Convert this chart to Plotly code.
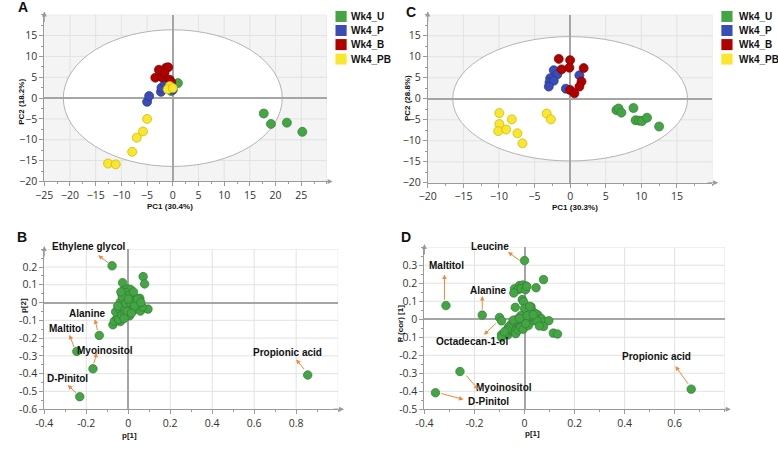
import plotly.graph_objects as go

W, H = 778, 450

# ---------------- DATA ----------------
groups = ["Wk4_U", "Wk4_P", "Wk4_B", "Wk4_PB"]
group_colors = ["#45a545", "#3a4db7", "#b00000", "#f9e62d"]
group_lines = ["#2f7d32", "#27348a", "#7a0000", "#c9b400"]

# Panel A scores (PC1, PC2)
A_scores = {
    "Wk4_U": ([1.0, -0.3, 17.7, 19.1, 22.2, 25.2], [3.6, 1.7, -3.7, -6.2, -5.9, -8.1]),
    "Wk4_P": ([-5.0, -4.6, -2.3, -2.2, -1.5, -0.5, -1.0, 0.0], [-0.9, 0.5, 1.5, 2.5, 3.5, 2.8, 4.0, 2.0]),
    "Wk4_B": ([-3.4, -2.7, -2.1, -1.3, -0.9, -0.6, -0.3, -1.6], [4.9, 6.8, 5.0, 7.3, 7.4, 4.4, 3.8, 6.0]),
    "Wk4_PB": ([-12.6, -11.1, -7.9, -7.0, -5.8, -5.0, -0.6, -1.0, 0.0], [-15.7, -15.9, -12.9, -9.5, -8.0, -5.0, 2.9, 2.1, 2.4]),
}
A_ellipse = (21.3, 16.4)

# Panel C scores (PC1, PC2)
C_scores = {
    "Wk4_U": ([6.5, 6.8, 7.2, 8.9, 9.2, 9.7, 10.1, 10.8, 12.5], [-2.7, -2.3, -3.3, -2.2, -5.1, -5.2, -5.3, -4.5, -6.6]),
    "Wk4_P": ([-2.3, -1.8, -2.8, -2.9, -2.3, -3.0, -0.6, 1.3], [6.8, 5.8, 4.9, 3.9, 4.3, 2.9, 2.4, 5.6]),
    "Wk4_B": ([-1.6, -1.2, 0.0, -0.1, 1.9, 1.6, 1.3, 0.0, 0.6], [9.5, 7.0, 9.2, 7.4, 7.3, 4.1, 2.9, 2.1, 1.3]),
    "Wk4_PB": ([-9.95, -9.95, -10.1, -9.0, -8.2, -7.4, -6.7, -3.3, -2.7], [-3.4, -6.0, -7.7, -7.3, -4.9, -8.2, -10.6, -3.5, -4.9]),
}
C_ellipse = (16.5, 14.8)

# Panel B loadings p[1], p[2]
B_p1 = [-0.077, -0.138, -0.245, -0.168, -0.231, 0.855,
        -0.027, 0.071, 0.078, 0.094, -0.073, -0.066, -0.053, -0.038, -0.045,
        -0.060, -0.043, -0.031, -0.023, -0.016, -0.031, -0.023, -0.004, 0.011, 0.019, 0.027,
        0.035, 0.050, 0.055, -0.008, 0.000, 0.014, 0.039, 0.058, 0.066, 0.006, -0.019, -0.038,
        -0.016, 0.024, 0.043, -0.010, 0.005, 0.020, -0.028, -0.012, 0.008, 0.030, -0.005, 0.045,
        -0.020, 0.015, 0.060, -0.035, 0.025, -0.050, 0.000]
B_p2 = [0.207, -0.185, -0.275, -0.373, -0.530, -0.408,
        0.112, 0.146, 0.105, -0.037, -0.125, -0.104, -0.085, -0.107, -0.095,
        -0.052, -0.034, -0.070, -0.015, 0.013, 0.050, 0.068, 0.077, 0.074, 0.050, 0.031,
        0.018, 0.007, 0.024, 0.031, -0.015, -0.034, -0.037, -0.048, -0.024, -0.075, -0.055, 0.002,
        -0.037, -0.006, -0.011, 0.055, 0.040, 0.010, 0.030, -0.005, 0.000, -0.020, -0.050, 0.020,
        -0.090, -0.060, 0.000, 0.060, 0.060, -0.020, 0.020]
B_labels = ["Ethylene glycol", "Alanine", "Maltitol", "Myoinositol", "D-Pinitol", "Propionic acid"]

# Panel D loadings p[1], p(corr)[1]
D_p1 = [0.000, -0.314, -0.169, -0.100, -0.258, -0.356, 0.666,
        0.076, 0.046, -0.040, -0.020, -0.007, 0.006, -0.026, -0.013, 0.004, 0.009, -0.043,
        -0.009, -0.004, -0.037, 0.026, 0.033, 0.053, 0.066, 0.079, 0.115, 0.132, 0.076, 0.097,
        0.000, 0.020, 0.045, -0.092, -0.066, -0.072, -0.092, -0.092, -0.060, -0.050, -0.040,
        -0.030, -0.020, -0.010, 0.000, 0.010, 0.020, 0.030, -0.055, -0.045, -0.035, -0.025,
        -0.015, -0.005, 0.015, 0.025, 0.040, -0.030, -0.015, 0.000, -0.065, -0.070, 0.010,
        -0.045, 0.050, 0.035, -0.080, -0.020, 0.005, 0.059]
D_pcorr = [0.326, 0.076, 0.023, 0.010, -0.290, -0.408, -0.388,
           0.220, 0.175, 0.170, 0.187, 0.190, 0.184, 0.164, 0.170, 0.164, 0.182, 0.146,
           0.109, 0.097, 0.066, 0.069, 0.042, 0.024, 0.005, -0.013, -0.077, -0.082, -0.040, -0.008,
           0.060, 0.072, 0.030, -0.009, -0.086, -0.077, -0.086, -0.100, -0.060, -0.040, -0.020,
           -0.050, -0.030, -0.010, -0.040, -0.020, 0.000, -0.010, -0.030, -0.065, -0.080, -0.060,
           -0.045, -0.055, -0.035, 0.015, 0.010, 0.000, 0.020, 0.000, -0.045, -0.060, 0.020,
           -0.005, -0.010, 0.025, -0.070, 0.005, -0.025, -0.037]
D_labels = ["Leucine", "Maltitol", "Alanine", "Octadecan-1-ol", "Myoinositol", "D-Pinitol", "Propionic acid"]

# label text positions and arrow (tail -> head) for loadings panels
B_label_pos = [(-0.189, 0.317), (-0.193, -0.061), (-0.296, -0.144), (-0.110, -0.268), (-0.291, -0.425), (0.761, -0.279)]
B_arrows = [((-0.085, 0.215), (-0.143, 0.266)), ((-0.145, -0.163), (-0.159, -0.094)),
            ((-0.256, -0.259), (-0.280, -0.181)), ((-0.166, -0.351), (-0.150, -0.283)),
            ((-0.241, -0.517), (-0.288, -0.464)), ((0.844, -0.384), (0.800, -0.320))]
D_label_pos = [(-0.138, 0.402), (-0.31, 0.297), (-0.145, 0.158), (-0.211, -0.126), (-0.083, -0.379), (-0.145, -0.459), (0.527, -0.204)]
D_arrows = [((-0.013, 0.320), (-0.066, 0.373)), ((-0.320, 0.100), (-0.320, 0.248)),
            ((-0.169, 0.045), (-0.169, 0.129)), ((-0.109, -0.016), (-0.162, -0.086)),
            ((-0.237, -0.305), (-0.185, -0.390)), ((-0.339, -0.410), (-0.244, -0.445)),
            ((0.658, -0.367), (0.603, -0.260))]

# ---------------- FIGURE ----------------
fig = go.Figure()

def px_x(p):
    return p / W

def px_y(p):
    return 1 - p / H

domains = {
    "A": ([35.7, 321.7], [15, 184.3]),
    "C": ([423.7, 711.7], [15, 185.7]),
    "B": ([35.7, 333.0], [253.2, 415.6]),
    "D": ([420.3, 724.1], [251.1, 415.8]),
}
axes_id = {"A": ("x", "y"), "C": ("x2", "y2"), "B": ("x3", "y3"), "D": ("x4", "y4")}

for key, scores in (("A", A_scores), ("C", C_scores)):
    xa, ya = axes_id[key]
    for g, col, lc in zip(groups, group_colors, group_lines):
        xs, ys = scores[g]
        fig.add_trace(go.Scatter(x=xs, y=ys, mode="markers", xaxis=xa, yaxis=ya,
                                 marker=dict(size=9, color=col, line=dict(color=lc, width=0.7)),
                                 showlegend=False, name=g))

green, green_line = group_colors[0], group_lines[0]
fig.add_trace(go.Scatter(x=B_p1, y=B_p2, mode="markers", xaxis="x3", yaxis="y3",
                         marker=dict(size=8.5, color=green, line=dict(color=green_line, width=0.7)),
                         showlegend=False))
fig.add_trace(go.Scatter(x=D_p1, y=D_pcorr, mode="markers", xaxis="x4", yaxis="y4",
                         marker=dict(size=8.5, color=green, line=dict(color=green_line, width=0.7)),
                         showlegend=False))

tickfont = dict(family="Open Sans, Arial, sans-serif", size=10.5, color="#333")
grid = "#e2e2e2"
axcol = "#9a9a9a"

def axis(dom_px, is_x, rng, dtick, minor_dtick):
    if is_x:
        dom = [px_x(dom_px[0]), px_x(dom_px[1])]
    else:
        dom = [px_y(dom_px[1]), px_y(dom_px[0])]
    return dict(domain=dom, range=rng, dtick=dtick, tick0=0, showgrid=False,
                zeroline=True, zerolinecolor="#a5a5a5", zerolinewidth=1.5,
                showline=True, linecolor=axcol, linewidth=1, ticks="outside", ticklen=4,
                tickcolor=axcol, tickfont=tickfont,
                minor=dict(dtick=minor_dtick, ticks="outside", ticklen=2, tickcolor=axcol, showgrid=False),
                fixedrange=True)

layout_axes = {}
cfg = {
    "A": ([-25, 30], 5, 2.5, [-20, 20], 5, 2.5),
    "C": ([-20, 20], 5, 2.5, [-20, 20], 5, 2.5),
    "B": ([-0.4, 1.0], 0.2, 0.1, [-0.6, 0.3], 0.1, 0.05),
    "D": ([-0.4, 0.8], 0.2, 0.1, [-0.5, 0.4], 0.1, 0.05),
}
for key, (xr, xd, xm, yr, yd, ym) in cfg.items():
    xa, ya = axes_id[key]
    xname = "xaxis" + xa[1:]
    yname = "yaxis" + ya[1:]
    xd_ = axis(domains[key][0], True, xr, xd, xm)
    yd_ = axis(domains[key][1], False, yr, yd, ym)
    xd_["anchor"] = ya
    yd_["anchor"] = xa
    layout_axes[xname] = xd_
    layout_axes[yname] = yd_

# tick labels (last grid line carries no label)
layout_axes["xaxis"]["tickvals"] = list(range(-25, 30, 5))
layout_axes["yaxis"]["tickvals"] = list(range(-20, 20, 5))
layout_axes["xaxis2"]["tickvals"] = list(range(-20, 20, 5))
layout_axes["yaxis2"]["tickvals"] = list(range(-20, 20, 5))
layout_axes["xaxis3"]["tickvals"] = [-0.4, -0.2, 0, 0.2, 0.4, 0.6, 0.8]
layout_axes["xaxis3"]["ticktext"] = ["-0.4", "-0.2", "0", "0.2", "0.4", "0.6", "0.8"]
layout_axes["yaxis3"]["tickvals"] = [-0.6, -0.5, -0.4, -0.3, -0.2, -0.1, 0, 0.1, 0.2]
layout_axes["yaxis3"]["ticktext"] = ["-0.6", "-0.5", "-0.4", "-0.3", "-0.2", "-0.1", "0", "0.1", "0.2"]
layout_axes["xaxis4"]["tickvals"] = [-0.4, -0.2, 0, 0.2, 0.4, 0.6]
layout_axes["xaxis4"]["ticktext"] = ["-0.4", "-0.2", "0", "0.2", "0.4", "0.6"]
layout_axes["yaxis4"]["tickvals"] = [-0.5, -0.4, -0.3, -0.2, -0.1, 0, 0.1, 0.2, 0.3]
layout_axes["yaxis4"]["ticktext"] = ["-0.5", "-0.4", "-0.3", "-0.2", "-0.1", "0", "0.1", "0.2", "0.3"]

shapes = []
# gray background + white Hotelling ellipse for score plots
for key, ell in (("A", A_ellipse), ("C", C_ellipse)):
    xa, ya = axes_id[key]
    shapes.append(dict(type="rect", xref=xa + " domain", yref=ya + " domain", x0=0, x1=1, y0=0, y1=1,
                       fillcolor="#f4f4f4", line=dict(width=0), layer="below"))
    shapes.append(dict(type="circle", xref=xa, yref=ya, x0=-ell[0], x1=ell[0], y0=-ell[1], y1=ell[1],
                       fillcolor="white", line=dict(color="#b3b3b3", width=1), layer="below"))

# grid lines
def grid_lines(key, xs, ys):
    xa, ya = axes_id[key]
    for v in xs:
        shapes.append(dict(type="line", xref=xa, yref=ya + " domain", x0=v, x1=v, y0=0, y1=1,
                           line=dict(color=grid, width=1), layer="below"))
    for v in ys:
        shapes.append(dict(type="line", xref=xa + " domain", yref=ya, x0=0, x1=1, y0=v, y1=v,
                           line=dict(color=grid, width=1), layer="below"))

grid_lines("A", [-20, -15, -10, -5, 5, 10, 15, 20, 25, 30], [-15, -10, -5, 5, 10, 15, 20])
grid_lines("C", [-15, -10, -5, 5, 10, 15, 20], [-15, -10, -5, 5, 10, 15, 20])
grid_lines("B", [-0.2, 0.2, 0.4, 0.6, 0.8, 1.0], [-0.5, -0.4, -0.3, -0.2, -0.1, 0.1, 0.2, 0.3])
grid_lines("D", [-0.2, 0.2, 0.4, 0.6, 0.8], [-0.4, -0.3, -0.2, -0.1, 0.1, 0.2, 0.3, 0.4])

annotations = []
# axis arrows
for key in ("A", "C", "B", "D"):
    xa, ya = axes_id[key]
    annotations.append(dict(xref=xa + " domain", yref=ya + " domain", x=0, y=1.02, ax=0, ay=12,
                            text="", showarrow=True, arrowhead=2, arrowsize=1, arrowwidth=1, arrowcolor=axcol))
    annotations.append(dict(xref=xa + " domain", yref=ya + " domain", x=1.02, y=0, ax=-12, ay=0,
                            text="", showarrow=True, arrowhead=2, arrowsize=1, arrowwidth=1, arrowcolor=axcol))

labfont = dict(family="Arial, Liberation Sans, sans-serif", size=10, color="#111")
orange = "#f0883a"
for key, labels, pos, arrows in (("B", B_labels, B_label_pos, B_arrows), ("D", D_labels, D_label_pos, D_arrows)):
    xa, ya = axes_id[key]
    xr = cfg[key][0]
    yr = cfg[key][3]
    for lab, (lx, ly), (tail, head) in zip(labels, pos, arrows):
        # label placed via domain fractions so labels just above the top edge stay visible
        fx = (lx - xr[0]) / (xr[1] - xr[0])
        fy = (ly - yr[0]) / (yr[1] - yr[0])
        annotations.append(dict(xref=xa + " domain", yref=ya + " domain", x=fx, y=fy,
                                xanchor="center", yanchor="middle",
                                text="<b>" + lab + "</b>", showarrow=False, font=labfont))
        annotations.append(dict(xref=xa, yref=ya, axref=xa, ayref=ya, x=head[0], y=head[1],
                                ax=tail[0], ay=tail[1], text="", showarrow=True, arrowhead=2,
                                arrowsize=0.9, arrowwidth=1, arrowcolor=orange, standoff=0, startstandoff=0))

# axis titles
titlefont = dict(family="Arial, Liberation Sans, sans-serif", size=8, color="#111")
axis_titles = [
    ("PC1 (30.4%)", 163.3, 209.5, 0), ("PC2 (18.2%)", 12.5, 103, -90),
    ("PC1 (30.3%)", 572.7, 211, 0), ("PC2 (28.8%)", 403.3, 100, -90),
    ("p[1]", 121.7, 442, 0), ("p[2]", 14, 310, -90),
    ("p[1]", 530, 440, 0), ("P (cor) [1]", 396, 328, -90),
]
for t, x, y, ang in axis_titles:
    annotations.append(dict(xref="paper", yref="paper", x=px_x(x), y=px_y(y), text="<b>" + t + "</b>",
                            showarrow=False, font=titlefont, textangle=ang, xanchor="center", yanchor="middle"))

# panel letters
for t, x, y in (("A", 14.3, 7), ("B", 13.5, 241), ("C", 406.7, 11.7), ("D", 401.7, 241)):
    annotations.append(dict(xref="paper", yref="paper", x=px_x(x), y=px_y(y), text="<b>" + t + "</b>",
                            showarrow=False, font=dict(family="Arial, Liberation Sans, sans-serif", size=14, color="#111"),
                            xanchor="center", yanchor="middle"))

# legends (manual, compact)
legfont = dict(family="Arial, Liberation Sans, sans-serif", size=10, color="#111")
row_y = [16.7, 31, 45.3, 60]
for sq_x, tx in ((330.3, 344), (720.7, 736.3)):
    for g, col, ry in zip(groups, group_colors, row_y):
        shapes.append(dict(type="rect", xref="paper", yref="paper", x0=px_x(sq_x), x1=px_x(sq_x + 11.3),
                           y0=px_y(ry + 5.6), y1=px_y(ry - 5.6), fillcolor=col, line=dict(width=0)))
        annotations.append(dict(xref="paper", yref="paper", x=px_x(tx), y=px_y(ry), text="<b>" + g + "</b>",
                                showarrow=False, font=legfont, xanchor="left", yanchor="middle"))

fig.update_layout(width=W, height=H, margin=dict(l=0, r=0, t=0, b=0),
                  paper_bgcolor="white", plot_bgcolor="white", showlegend=False,
                  shapes=shapes, annotations=annotations, **layout_axes)

fig.write_html("out.html", config={"displayModeBar": False},
               post_script="document.body.style.margin='0';document.body.style.overflow='hidden';")
